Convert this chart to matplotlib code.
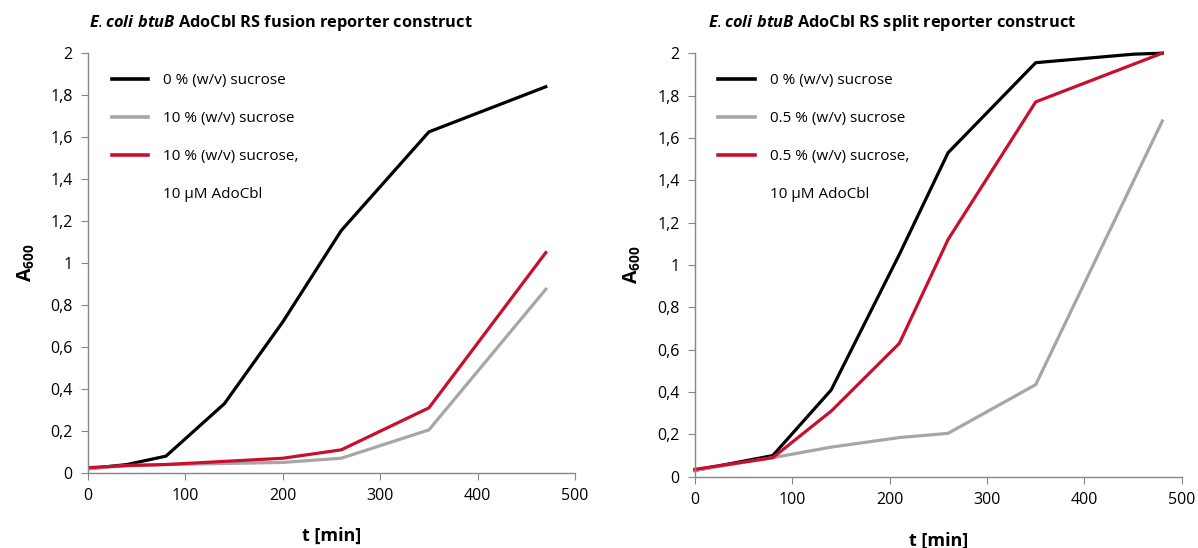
import matplotlib
matplotlib.use("Agg")
import matplotlib.pyplot as plt
from matplotlib.lines import Line2D

plt.rcParams['font.family'] = ['Open Sans', 'DejaVu Sans']
plt.rcParams['mathtext.fontset'] = 'custom'
plt.rcParams['mathtext.bf'] = 'Open Sans:bold'
plt.rcParams['mathtext.it'] = 'Open Sans:bold:italic'
plt.rcParams['mathtext.rm'] = 'Open Sans'

# fusion reporter (left)
t_fusion = [0, 40, 80, 140, 200, 260, 350, 470]
fus_0 = [0.02, 0.04, 0.08, 0.33, 0.72, 1.155, 1.625, 1.84]
fus_10 = [0.02, 0.035, 0.04, 0.045, 0.05, 0.07, 0.205, 0.875]
fus_10_ado = [0.025, 0.035, 0.04, 0.055, 0.07, 0.11, 0.31, 1.05]
fus_labels = ["0 % (w/v) sucrose", "10 % (w/v) sucrose",
              "10 % (w/v) sucrose,", "10 \u03bcM AdoCbl"]

# split reporter (right)
t_split = [0, 80, 140, 210, 260, 350, 450, 480]
spl_0 = [0.03, 0.10, 0.41, 1.05, 1.53, 1.955, 1.995, 2.0]
t_split_b = [0, 80, 140, 210, 260, 350, 480]
spl_05 = [0.03, 0.09, 0.14, 0.185, 0.205, 0.435, 1.68]
spl_05_ado = [0.035, 0.09, 0.31, 0.63, 1.12, 1.77, 2.0]
spl_labels = ["0 % (w/v) sucrose", "0.5 % (w/v) sucrose",
              "0.5 % (w/v) sucrose,", "10 \u03bcM AdoCbl"]

colors = ['#000000', '#a6a6a6', '#c8102e']
yticks = [0, 0.2, 0.4, 0.6, 0.8, 1, 1.2, 1.4, 1.6, 1.8, 2]
ytick_labels = ['0', '0,2', '0,4', '0,6', '0,8', '1', '1,2', '1,4', '1,6', '1,8', '2']
xticks = [0, 100, 200, 300, 400, 500]

fig = plt.figure(figsize=(11.98, 5.48), dpi=100)
ax1 = fig.add_axes([0.0735, 0.137, 0.4065, 0.766])
ax2 = fig.add_axes([0.580, 0.130, 0.4065, 0.773])


def style(ax, xpad):
    ax.set_xlim(0, 500)
    ax.set_ylim(0, 2)
    ax.set_xticks(xticks)
    ax.set_yticks(yticks)
    ax.set_yticklabels(ytick_labels)
    for s in ['top', 'right']:
        ax.spines[s].set_visible(False)
    for s in ['left', 'bottom']:
        ax.spines[s].set_color('#868686')
        ax.spines[s].set_linewidth(1.0)
    ax.tick_params(direction='out', length=5, color='#868686', labelsize=11.5,
                   labelcolor='#000000', pad=6)
    ax.set_xlabel('t [min]', fontsize=13, fontweight='bold', labelpad=xpad)
    ax.set_ylabel(r'$\mathbf{A}_{\mathbf{600}}$', fontsize=14, labelpad=10)


def legend(ax, labels):
    handles = [Line2D([], [], color=c, lw=2.6) for c in colors]
    handles.append(Line2D([], [], color='none'))
    ax.legend(handles, labels, loc='upper left', bbox_to_anchor=(0.02, 0.985),
              frameon=False, fontsize=11, handlelength=2.4, handletextpad=1.0,
              labelspacing=1.5)


ax1.plot(t_fusion, fus_0, color=colors[0], lw=2.3)
ax1.plot(t_fusion, fus_10, color=colors[1], lw=2.3)
ax1.plot(t_fusion, fus_10_ado, color=colors[2], lw=2.3)
style(ax1, 16)
legend(ax1, fus_labels)

ax2.plot(t_split, spl_0, color=colors[0], lw=2.3, clip_on=False)
ax2.plot(t_split_b, spl_05, color=colors[1], lw=2.3, clip_on=False)
ax2.plot(t_split_b, spl_05_ado, color=colors[2], lw=2.3, clip_on=False)
style(ax2, 17)
legend(ax2, spl_labels)

fig.text(0.234, 0.958, r'$\mathit{E. coli\ btuB}$ AdoCbl RS fusion reporter construct',
         ha='center', va='center', fontsize=11.8, fontweight='bold')
fig.text(0.745, 0.958, r'$\mathit{E. coli\ btuB}$ AdoCbl RS split reporter construct',
         ha='center', va='center', fontsize=11.8, fontweight='bold')

fig.savefig('out.png', dpi=100)
